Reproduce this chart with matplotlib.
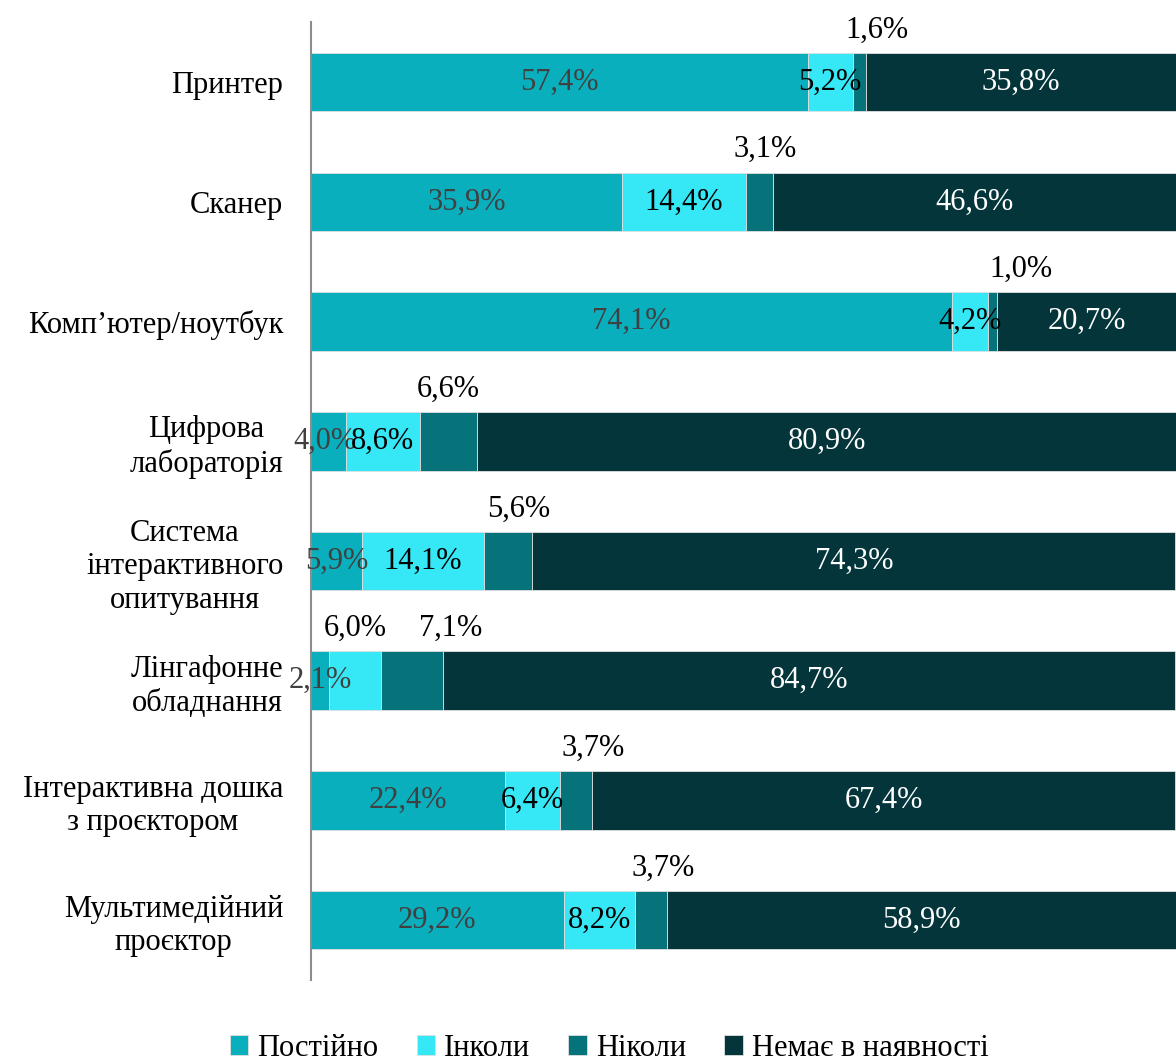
import matplotlib.pyplot as plt

plt.rcParams['font.family'] = ['Liberation Serif', 'DejaVu Serif']

categories = ["Принтер", "Сканер", "Комп’ютер/ноутбук", "Цифрова\nлабораторія",
              "Система\nінтерактивного\nопитування", "Лінгафонне\nобладнання",
              "Інтерактивна дошка\nз проєктором", "Мультимедійний\nпроєктор"]
series = ["Постійно", "Інколи", "Ніколи", "Немає в наявності"]
always = [57.4, 35.9, 74.1, 4.0, 5.9, 2.1, 22.4, 29.2]
sometimes = [5.2, 14.4, 4.2, 8.6, 14.1, 6.0, 6.4, 8.2]
never = [1.6, 3.1, 1.0, 6.6, 5.6, 7.1, 3.7, 3.7]
absent = [35.8, 46.6, 20.7, 80.9, 74.3, 84.7, 67.4, 58.9]

colors = ["#0aafbd", "#36e8f6", "#06737a", "#04353a"]
label_colors = ["#404040", "black", "black", "white"]
# small horizontal shifts for the labels that sit above the bars
above_dx = [2.0, 0.6, 3.3, 0.0, 1.2, 4.5, 2.0, 1.4]
fs = 22

fig = plt.figure(figsize=(11.76, 10.62), dpi=100)
ax = fig.add_axes([0.2645, 0.0772, 0.7355, 0.9018])

data = [always, sometimes, never, absent]
y = list(range(len(categories)))
left = [0.0] * len(categories)
for k, vals in enumerate(data):
    ax.barh(y, vals, left=left, height=0.49, color=colors[k], label=series[k],
            edgecolor="#e0e0e0", linewidth=0.6)
    for i, v in enumerate(vals):
        cx = left[i] + v / 2
        txt = f"{v:.1f}%".replace(".", ",")
        if k == 2:
            ax.text(cx + above_dx[i], i - 0.435, txt, ha="center", va="center",
                    fontsize=fs, color="black")
        elif k == 1 and i == 5:
            ax.text(cx, i - 0.435, txt, ha="center", va="center",
                    fontsize=fs, color="black")
        elif k == 0 and i == 3:
            # nudge left so it only touches the neighbouring label
            ax.text(cx - 0.4, i, txt, ha="center", va="center", fontsize=fs,
                    color=label_colors[k])
        else:
            ax.text(cx, i, txt, ha="center", va="center", fontsize=fs,
                    color=label_colors[k])
    left = [a + b for a, b in zip(left, vals)]

ax.set_xlim(0, 100)
ax.set_ylim(len(categories) - 0.5, -0.5)
ax.set_yticks(y)
ax.set_yticklabels(categories, fontsize=fs, multialignment="center",
                   linespacing=1.2)
ax.tick_params(axis="y", length=0, pad=20)
ax.set_xticks([])
for s in ["top", "right", "bottom"]:
    ax.spines[s].set_visible(False)
ax.spines["left"].set_color("#8c8c8c")
ax.spines["left"].set_linewidth(1.5)

fig.legend(loc="center", bbox_to_anchor=(0.518, 0.013), ncol=4, frameon=False,
           fontsize=fs, handlelength=0.6, handleheight=0.6, handletextpad=0.3,
           columnspacing=1.25)

fig.savefig("out.png", dpi=100)
